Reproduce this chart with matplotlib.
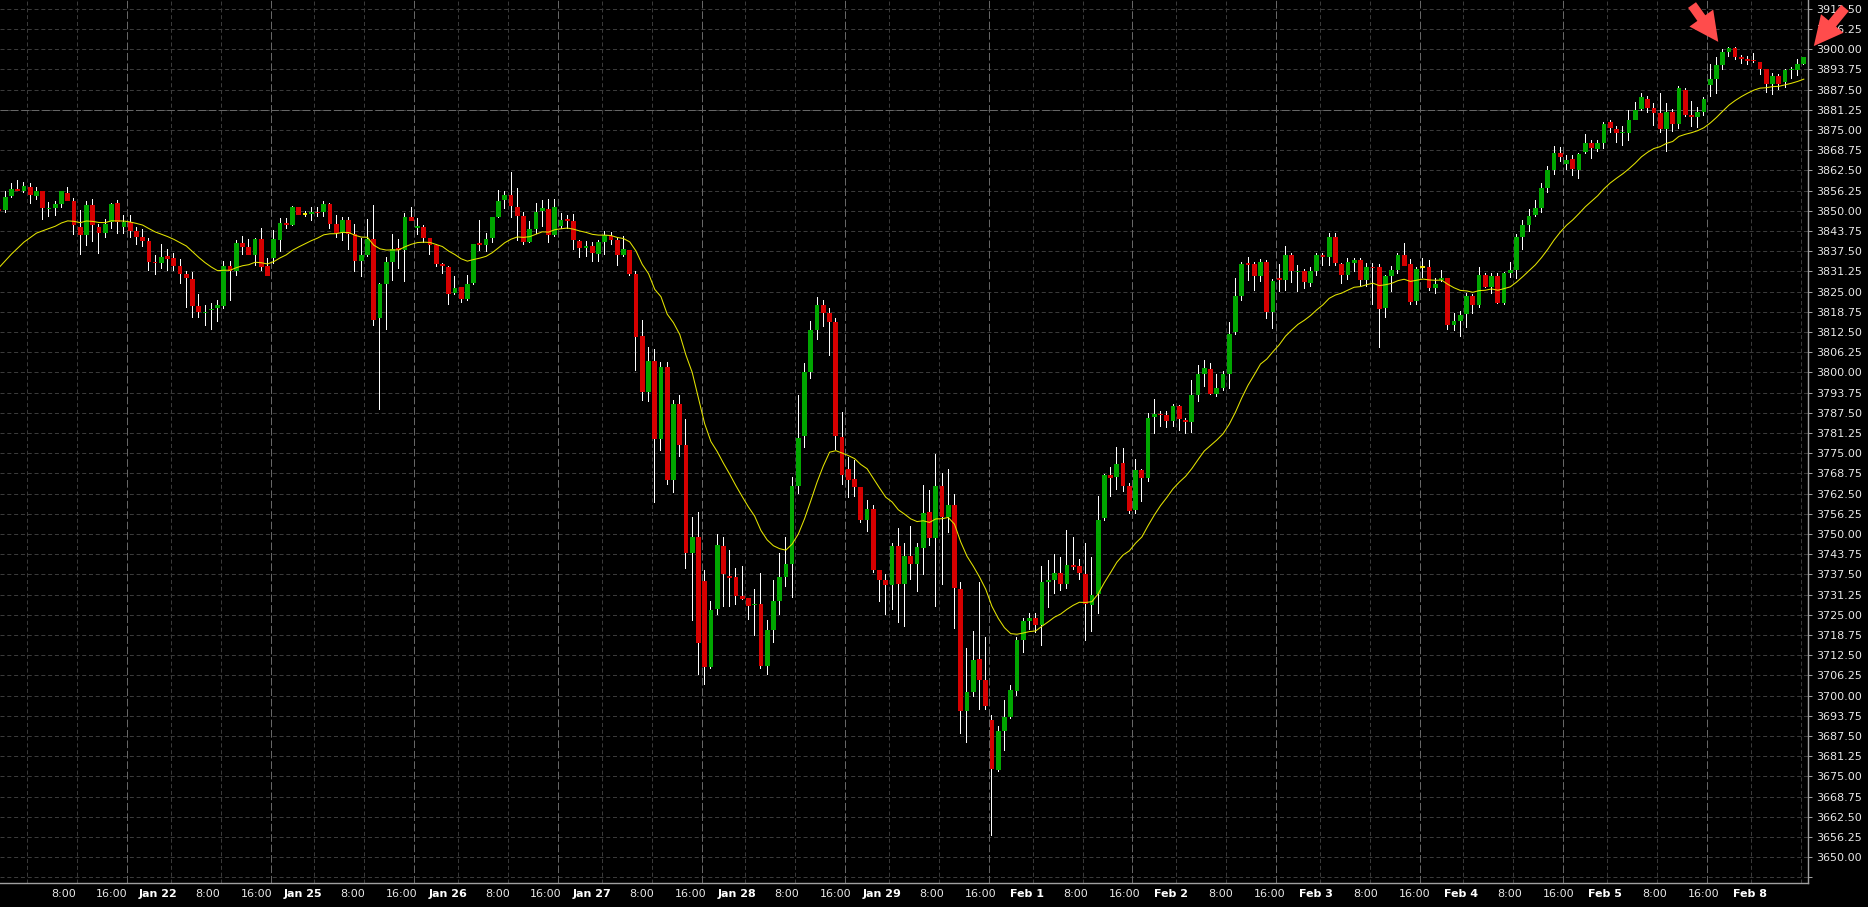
"""Hourly futures candles with a 20-bar EMA, dark trading-terminal style."""
import matplotlib
matplotlib.use("Agg")
import matplotlib.pyplot as plt
import numpy as np
import pandas as pd

# --- hourly OHLC, one value per bar ---
opens = [
    3850.5, 3850.25, 3854.5, 3856.75, 3856.25, 3857.5, 3854.5, 3856.25, 3850.5, 3851.0,
    3852.25, 3855.5, 3853.0, 3845.0, 3842.5, 3851.75, 3845.0, 3843.25, 3846.5, 3852.5,
    3845.0, 3846.5, 3843.75, 3842.0, 3840.75, 3834.25, 3833.75, 3836.0, 3835.5, 3833.0,
    3830.5, 3829.0, 3820.5, 3818.25, 3819.25, 3820.0, 3820.5, 3833.0, 3831.25, 3840.0,
    3838.75, 3836.25, 3841.25, 3833.0, 3835.5, 3841.0, 3846.25, 3845.5, 3851.25, 3849.0,
    3849.0, 3849.75, 3849.75, 3852.25, 3846.0, 3843.25, 3847.25, 3842.75, 3834.5, 3836.5,
    3841.25, 3816.75, 3827.5, 3834.25, 3838.5, 3837.75, 3848.25, 3844.75, 3845.0, 3841.5,
    3839.5, 3833.5, 3832.75, 3824.5, 3826.5, 3822.75, 3827.75, 3840.0, 3839.5, 3841.5,
    3848.0, 3853.25, 3855.0, 3851.25, 3848.5, 3840.5, 3844.5, 3850.0, 3850.5, 3842.5,
    3845.25, 3847.5, 3846.75, 3840.75, 3838.5, 3839.25, 3836.75, 3840.25, 3842.25, 3841.0,
    3836.25, 3838.0, 3830.5, 3811.25, 3794.0, 3803.5, 3779.5, 3801.75, 3766.75, 3790.25,
    3777.5, 3744.25, 3749.25, 3735.5, 3709.0, 3726.75, 3746.25, 3737.0, 3736.75, 3730.75,
    3730.25, 3728.0, 3728.5, 3709.25, 3720.25, 3729.25, 3736.75, 3740.75, 3764.75, 3780.25,
    3800.0, 3813.0, 3821.0, 3818.5, 3815.5, 3780.0, 3770.25, 3767.0, 3764.5, 3754.25,
    3757.75, 3739.0, 3735.75, 3734.25, 3746.25, 3734.5, 3743.25, 3740.75, 3745.75, 3756.75,
    3748.75, 3765.0, 3755.25, 3759.0, 3733.0, 3695.25, 3701.25, 3711.25, 3705.0, 3692.5,
    3677.0, 3689.0, 3693.25, 3701.5, 3717.25, 3723.25, 3724.0, 3722.0, 3735.25, 3735.75,
    3738.0, 3734.5, 3740.5, 3740.0, 3737.75, 3728.0, 3731.5, 3755.0, 3768.25, 3767.75,
    3772.0, 3764.75, 3757.5, 3769.75, 3767.25, 3786.25, 3787.25, 3786.75, 3785.0, 3789.75,
    3785.25, 3784.75, 3793.0, 3799.5, 3801.0, 3793.25, 3795.25, 3799.5, 3812.5, 3823.75,
    3833.75, 3833.5, 3829.75, 3834.25, 3818.75, 3829.25, 3828.75, 3836.5, 3831.0, 3831.25,
    3827.75, 3831.25, 3836.25, 3835.75, 3842.0, 3833.5, 3830.25, 3833.75, 3834.75, 3828.75,
    3832.75, 3832.5, 3820.0, 3830.0, 3831.75, 3836.25, 3833.5, 3822.0, 3832.5, 3832.75,
    3826.0, 3828.5, 3829.25, 3814.75, 3816.0, 3818.0, 3823.75, 3820.75, 3830.25, 3826.5,
    3829.75, 3821.5, 3830.75, 3831.75, 3842.0, 3845.5, 3848.75, 3850.75, 3857.0, 3862.5,
    3868.0, 3864.5, 3866.0, 3862.75, 3868.25, 3871.0, 3869.25, 3871.0, 3877.5, 3875.25,
    3874.0, 3874.25, 3878.0, 3881.5, 3884.75, 3881.75, 3880.25, 3875.25, 3880.75, 3877.0,
    3887.5, 3879.75, 3879.0, 3880.75, 3889.0, 3890.75, 3895.25, 3899.25, 3900.25, 3897.5,
    3897.0, 3896.75, 3896.0, 3893.75, 3889.25, 3891.75, 3889.75, 3893.5, 3893.5, 3895.5,
]
highs = [
    3851.0, 3856.0, 3858.5, 3859.5, 3859.0, 3858.5, 3857.5, 3856.25, 3852.75, 3853.0,
    3856.0, 3857.5, 3854.0, 3850.25, 3853.0, 3853.75, 3846.0, 3847.5, 3852.5, 3853.5,
    3848.75, 3848.75, 3845.0, 3844.25, 3841.5, 3836.5, 3839.75, 3838.25, 3837.0, 3835.0,
    3831.25, 3831.0, 3824.25, 3821.0, 3821.5, 3822.5, 3834.5, 3834.5, 3841.0, 3842.25,
    3841.25, 3841.5, 3844.75, 3835.5, 3844.0, 3847.75, 3847.75, 3851.5, 3851.25, 3850.0,
    3851.25, 3851.25, 3853.0, 3852.5, 3848.75, 3848.25, 3848.25, 3846.0, 3841.75, 3847.5,
    3851.75, 3827.75, 3835.75, 3842.75, 3841.25, 3849.25, 3851.25, 3847.75, 3845.75, 3841.75,
    3839.75, 3834.0, 3833.0, 3829.75, 3826.5, 3830.25, 3839.75, 3847.25, 3843.25, 3848.25,
    3856.5, 3856.25, 3862.0, 3857.0, 3849.75, 3847.0, 3852.5, 3853.25, 3853.75, 3853.75,
    3849.25, 3848.75, 3849.0, 3841.0, 3840.75, 3840.5, 3841.0, 3843.75, 3843.5, 3842.0,
    3842.25, 3838.0, 3831.25, 3816.25, 3808.0, 3807.25, 3803.25, 3803.25, 3791.5, 3793.0,
    3785.75, 3755.25, 3756.75, 3739.0, 3729.25, 3750.0, 3749.25, 3745.0, 3739.5, 3740.25,
    3730.25, 3733.0, 3738.0, 3723.5, 3735.75, 3744.0, 3749.25, 3767.75, 3793.0, 3803.0,
    3816.0, 3823.5, 3822.5, 3820.0, 3817.0, 3787.75, 3774.0, 3773.0, 3764.5, 3760.5,
    3759.0, 3739.0, 3737.75, 3747.25, 3751.75, 3747.25, 3752.5, 3747.25, 3765.25, 3763.75,
    3774.75, 3769.0, 3770.25, 3762.25, 3735.25, 3714.75, 3720.0, 3735.25, 3718.25, 3694.0,
    3690.5, 3698.75, 3703.25, 3718.25, 3724.0, 3725.5, 3725.5, 3740.25, 3742.0, 3743.75,
    3743.0, 3751.25, 3749.25, 3742.25, 3747.25, 3743.0, 3761.75, 3768.5, 3770.75, 3777.0,
    3776.5, 3765.75, 3773.25, 3770.25, 3787.5, 3791.75, 3788.0, 3788.0, 3790.25, 3790.0,
    3786.0, 3797.75, 3802.25, 3804.0, 3803.0, 3799.5, 3800.5, 3815.5, 3829.25, 3834.25,
    3835.75, 3834.25, 3835.0, 3834.75, 3829.0, 3833.5, 3839.25, 3837.0, 3833.25, 3832.0,
    3832.5, 3837.0, 3837.0, 3843.25, 3843.25, 3833.75, 3835.5, 3835.5, 3835.5, 3834.0,
    3834.0, 3833.5, 3830.25, 3833.0, 3837.0, 3840.0, 3835.25, 3832.5, 3835.5, 3834.75,
    3829.25, 3831.75, 3829.25, 3818.5, 3819.0, 3824.5, 3824.25, 3832.5, 3830.75, 3830.75,
    3830.75, 3831.0, 3834.25, 3843.0, 3847.25, 3850.5, 3853.5, 3858.5, 3864.0, 3870.0,
    3869.75, 3867.25, 3867.25, 3868.0, 3873.75, 3872.0, 3872.0, 3877.5, 3878.0, 3876.25,
    3876.25, 3881.25, 3883.75, 3886.5, 3885.5, 3883.25, 3886.5, 3883.25, 3881.5, 3888.5,
    3888.0, 3884.0, 3882.0, 3885.25, 3895.5, 3897.75, 3900.0, 3900.75, 3900.75, 3898.25,
    3898.0, 3899.0, 3896.0, 3893.75, 3892.75, 3892.5, 3894.0, 3894.5, 3897.0, 3897.5,
]
lows = [
    3849.5, 3849.5, 3854.0, 3856.0, 3855.5, 3852.25, 3853.5, 3847.25, 3848.25, 3848.5,
    3851.0, 3853.0, 3842.5, 3836.25, 3839.25, 3840.5, 3836.75, 3841.75, 3844.5, 3843.0,
    3843.0, 3841.75, 3839.5, 3838.75, 3831.25, 3830.25, 3832.0, 3831.5, 3831.5, 3827.5,
    3820.0, 3816.75, 3817.0, 3814.25, 3813.0, 3815.5, 3819.5, 3822.0, 3830.0, 3836.5,
    3836.5, 3833.0, 3831.5, 3829.75, 3833.5, 3837.25, 3844.5, 3845.25, 3848.75, 3848.0,
    3847.0, 3848.25, 3848.25, 3844.5, 3841.75, 3840.75, 3838.0, 3831.0, 3829.5, 3835.75,
    3814.5, 3788.25, 3813.25, 3828.25, 3832.0, 3828.0, 3846.75, 3842.5, 3840.0, 3836.5,
    3832.5, 3830.5, 3821.0, 3824.0, 3821.5, 3822.25, 3827.0, 3837.5, 3837.25, 3840.0,
    3847.75, 3850.5, 3847.75, 3840.75, 3839.5, 3840.0, 3843.0, 3845.0, 3840.0, 3842.0,
    3844.25, 3844.25, 3838.0, 3835.5, 3835.75, 3834.25, 3834.25, 3836.25, 3839.5, 3833.0,
    3835.75, 3829.75, 3800.5, 3791.25, 3791.0, 3759.5, 3775.75, 3765.25, 3762.75, 3773.75,
    3739.25, 3723.25, 3706.5, 3703.25, 3708.25, 3725.0, 3727.5, 3727.5, 3728.0, 3729.75,
    3723.5, 3718.5, 3708.25, 3706.5, 3716.25, 3725.0, 3733.75, 3730.25, 3762.5, 3776.5,
    3798.0, 3810.0, 3814.0, 3805.0, 3776.0, 3765.25, 3761.25, 3761.5, 3753.5, 3750.75,
    3738.0, 3729.0, 3725.0, 3726.5, 3722.5, 3721.25, 3735.75, 3732.0, 3737.25, 3746.25,
    3727.5, 3734.25, 3750.25, 3720.5, 3688.25, 3685.5, 3699.5, 3695.5, 3695.5, 3656.5,
    3676.25, 3682.75, 3692.75, 3700.0, 3713.25, 3720.25, 3719.25, 3715.25, 3727.0, 3731.5,
    3732.25, 3733.0, 3738.75, 3735.75, 3717.0, 3719.75, 3725.25, 3754.0, 3761.5, 3763.5,
    3763.0, 3756.25, 3756.25, 3760.0, 3766.0, 3781.0, 3783.0, 3782.75, 3783.0, 3781.75,
    3781.0, 3781.25, 3791.0, 3795.5, 3793.0, 3792.5, 3794.25, 3795.0, 3811.75, 3822.25,
    3828.25, 3825.25, 3828.0, 3816.5, 3813.5, 3824.75, 3825.25, 3827.75, 3824.75, 3825.75,
    3826.5, 3830.0, 3833.0, 3833.0, 3833.0, 3827.5, 3828.75, 3831.0, 3826.5, 3826.5,
    3820.75, 3807.5, 3816.75, 3824.75, 3830.5, 3833.0, 3821.0, 3820.75, 3829.25, 3825.25,
    3824.25, 3828.0, 3813.0, 3812.75, 3811.0, 3813.75, 3818.0, 3820.0, 3826.0, 3824.25,
    3821.25, 3821.0, 3829.25, 3829.0, 3838.0, 3843.5, 3848.25, 3849.5, 3855.5, 3861.0,
    3865.25, 3862.5, 3860.75, 3860.0, 3867.5, 3866.0, 3868.25, 3869.25, 3874.25, 3871.0,
    3870.0, 3871.75, 3878.0, 3881.0, 3880.25, 3876.25, 3874.0, 3868.25, 3874.5, 3875.25,
    3879.0, 3876.0, 3875.5, 3879.25, 3885.25, 3886.25, 3893.5, 3897.5, 3896.75, 3895.5,
    3895.0, 3895.75, 3892.0, 3886.5, 3886.0, 3887.5, 3888.0, 3890.75, 3891.75, 3895.25,
]
closes = [
    3850.0, 3854.25, 3856.75, 3856.25, 3857.75, 3855.0, 3856.25, 3850.75, 3851.0, 3852.0,
    3856.0, 3853.0, 3845.5, 3842.5, 3851.75, 3845.5, 3843.25, 3846.0, 3852.25, 3846.5,
    3846.5, 3843.75, 3842.0, 3840.75, 3834.25, 3833.75, 3835.75, 3835.25, 3833.0, 3830.5,
    3829.25, 3820.5, 3818.75, 3818.75, 3819.75, 3820.75, 3833.0, 3831.5, 3840.0, 3838.75,
    3836.5, 3841.25, 3832.5, 3830.0, 3841.25, 3846.25, 3845.5, 3851.25, 3848.75, 3849.0,
    3849.75, 3849.25, 3852.25, 3846.0, 3843.25, 3847.25, 3842.75, 3834.5, 3836.5, 3841.25,
    3816.25, 3827.5, 3834.25, 3838.25, 3837.75, 3848.25, 3847.0, 3845.25, 3841.5, 3839.5,
    3833.5, 3833.0, 3824.25, 3826.25, 3822.75, 3827.5, 3839.75, 3839.5, 3841.25, 3848.0,
    3853.0, 3855.0, 3851.5, 3848.5, 3840.5, 3844.25, 3849.75, 3850.75, 3842.5, 3851.25,
    3847.25, 3846.75, 3841.0, 3838.5, 3839.25, 3837.0, 3840.25, 3842.5, 3841.0, 3836.25,
    3838.25, 3830.5, 3811.0, 3794.0, 3803.5, 3779.5, 3801.75, 3766.75, 3790.25, 3777.5,
    3744.25, 3749.25, 3716.25, 3708.75, 3726.5, 3746.5, 3737.5, 3736.5, 3730.75, 3730.0,
    3727.75, 3728.5, 3709.25, 3720.25, 3729.25, 3736.75, 3740.75, 3764.75, 3779.75, 3800.0,
    3813.0, 3821.0, 3818.5, 3815.5, 3780.25, 3768.25, 3766.75, 3764.5, 3754.25, 3757.75,
    3739.0, 3735.75, 3734.25, 3746.25, 3734.5, 3743.25, 3740.75, 3746.0, 3756.5, 3748.75,
    3765.0, 3755.25, 3759.0, 3733.25, 3695.25, 3701.25, 3711.0, 3705.0, 3696.75, 3677.25,
    3689.0, 3693.25, 3701.75, 3717.25, 3723.0, 3724.0, 3722.0, 3735.25, 3735.75, 3738.0,
    3734.5, 3740.5, 3739.75, 3738.0, 3728.25, 3731.25, 3754.5, 3768.25, 3767.5, 3771.75,
    3764.75, 3757.0, 3769.75, 3767.25, 3786.0, 3787.0, 3786.75, 3785.0, 3789.75, 3785.5,
    3784.75, 3793.0, 3799.5, 3801.25, 3793.25, 3795.25, 3799.5, 3812.0, 3823.75, 3833.5,
    3833.25, 3830.0, 3834.25, 3818.75, 3828.25, 3828.75, 3836.5, 3831.25, 3831.5, 3828.0,
    3831.5, 3836.25, 3835.75, 3842.0, 3833.75, 3830.25, 3834.25, 3834.75, 3828.5, 3832.75,
    3832.25, 3819.5, 3829.75, 3831.75, 3836.25, 3833.0, 3821.75, 3832.0, 3832.5, 3826.0,
    3827.5, 3829.25, 3814.75, 3816.0, 3817.75, 3823.75, 3820.75, 3830.25, 3826.5, 3829.75,
    3821.5, 3830.75, 3831.75, 3842.0, 3845.75, 3848.5, 3850.75, 3857.0, 3862.5, 3868.0,
    3866.75, 3865.75, 3863.0, 3867.75, 3871.0, 3869.5, 3871.0, 3877.0, 3875.75, 3874.0,
    3874.5, 3878.0, 3881.25, 3885.25, 3881.75, 3880.25, 3875.25, 3880.5, 3877.0, 3888.0,
    3879.75, 3879.0, 3880.75, 3884.5, 3890.75, 3895.25, 3899.25, 3900.5, 3897.75, 3897.0,
    3896.5, 3896.25, 3894.0, 3889.25, 3891.75, 3889.25, 3893.5, 3894.0, 3895.5, 3897.5,
]

ma_seed = 3830.6     # average level at the left edge of the window
ma_span = 20
marked_level = 3881.25

day_labels = ["Jan 22", "Jan 25", "Jan 26", "Jan 27", "Jan 28", "Jan 29",
              "Feb 1", "Feb 2", "Feb 3", "Feb 4", "Feb 5", "Feb 8"]
hour_labels = ["8:00", "16:00"]

BG = "#000000"
UP = "#00a600"
DOWN = "#d60000"
MA_COLOR = "#e4e400"
TEXT = "#e8e8e8"
AXIS = "#a0a0a0"
GRID = "#3a3a3a"
SESSION = "#666666"
ARROW = "#ff4c4c"

plt.rcParams["lines.scale_dashes"] = False
plt.rcParams["font.family"] = ["DejaVu Sans"]

W, H = 1868, 907
fig = plt.figure(figsize=(W / 100, H / 100), dpi=100, facecolor=BG)
ax = fig.add_axes([0, 24 / H, 1808 / W, 883 / H])
ax.set_facecolor(BG)

o = np.array(opens)
h = np.array(highs)
l = np.array(lows)
c = np.array(closes)
x = np.arange(len(c))
up = c > o
down = c < o
flat = c == o

ma = pd.Series([ma_seed] + closes).ewm(span=ma_span, adjust=False).mean().to_numpy()[1:]

xlim = (0.16, 289.67)
px = (xlim[1] - xlim[0]) / 1808          # one screen pixel in bar units

# wicks as 1-pixel rectangles (crisp), bodies on top, the average over everything
ax.bar(x, h - l, bottom=l, width=px, color="white", lw=0, antialiased=False, zorder=2)
ax.bar(x[up], (c - o)[up], bottom=o[up], width=0.76, color=UP, lw=0,
       antialiased=False, zorder=3)
ax.bar(x[down], (c - o)[down], bottom=o[down], width=0.76, color=DOWN, lw=0,
       antialiased=False, zorder=3)
ax.hlines(c[flat], x[flat] - 0.38, x[flat] + 0.38, color="#f2e600", lw=1.4, zorder=3)
ax.plot(x, ma, color=MA_COLOR, lw=0.75, zorder=4)

# session breaks (long dash) and intraday grid
sessions = 20.5 + 23 * np.arange(-1, 12)
for s in sessions[1:]:
    ax.axvline(s, color=SESSION, lw=0.72, ls=(0, (5.5, 2.0)), zorder=1)
for s in sessions:
    for off in (7, 15):
        ax.axvline(s + off, color=GRID, lw=0.72, ls=(0, (2.9, 2.0)), zorder=1)
ax.axhline(marked_level, color=SESSION, lw=0.72, ls=(0, (5.5, 2.0)), zorder=1)

ax.set_xlim(*xlim)
ax.set_ylim(3642.04, 3915.25)

levels = np.arange(3643.75, 3912.51, 6.25)
ax.set_yticks(levels)
ax.set_yticklabels(["" if v < 3650 else f"{v:.2f}" for v in levels])
ax.yaxis.tick_right()
ax.grid(axis="y", color=GRID, lw=0.72, ls=(0, (2.9, 2.0)))
ax.set_axisbelow(True)
ax.tick_params(axis="y", colors=AXIS, labelcolor=TEXT, length=3, width=0.72,
               pad=3, labelsize=8, direction="out")

step = 23.17
xpos, xlab = [], []
for k, day in enumerate(day_labels):
    xpos += [10.27 + step * k, 18.1 + step * k, 25.52 + step * k]
    xlab += [hour_labels[0], hour_labels[1], day]
ax.set_xticks(xpos)
ax.set_xticklabels(xlab)
ax.tick_params(axis="x", length=0, pad=4, labelsize=8, labelcolor=TEXT)
for t in ax.get_xticklabels():
    if t.get_text() in day_labels:
        t.set_fontweight("bold")
        t.set_color("white")

for side in ("left", "top"):
    ax.spines[side].set_visible(False)
for side in ("right", "bottom"):
    ax.spines[side].set_color(AXIS)
    ax.spines[side].set_linewidth(1.0)

# the two red markers near the session high
arrow = dict(arrowstyle="simple,head_length=2.1,head_width=2.1,tail_width=0.7",
             fc=ARROW, ec="none", mutation_scale=10, shrinkA=0, shrinkB=0)
ax.annotate("", xy=(275.3, 3902.3), xytext=(271.1, 3913.7), arrowprops=arrow,
            annotation_clip=False, zorder=6)
ax.annotate("", xy=(290.6, 3901.0), xytext=(295.6, 3912.8), arrowprops=arrow,
            annotation_clip=False, zorder=6)

fig.savefig("out.png", dpi=100, facecolor=BG)
